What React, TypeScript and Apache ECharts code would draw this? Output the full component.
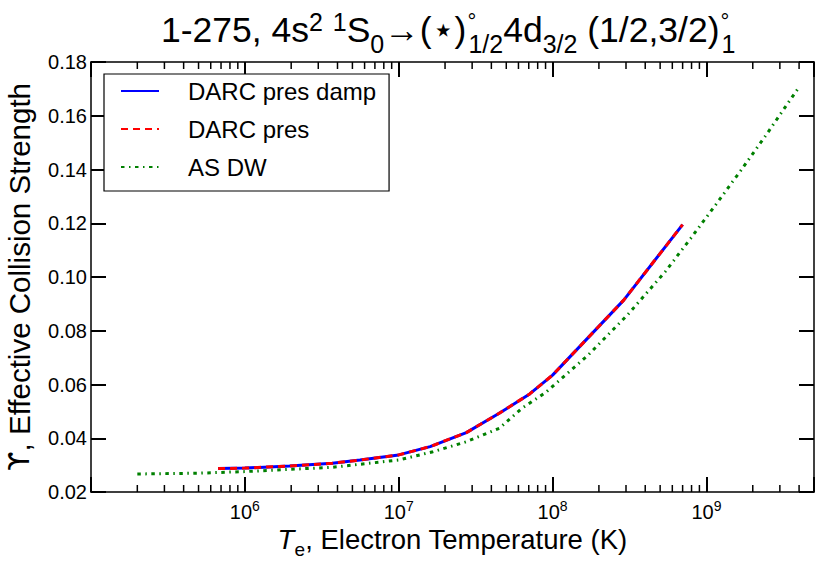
import React, { useEffect, useRef } from 'react';
import * as echarts from 'echarts';

// Electron temperature (K) and effective collision strength readings
const darcT = [6.7e5, 1.0e6, 1.95e6, 3.7e6, 5.6e6, 1.0e7, 1.6e7, 2.75e7, 4.5e7, 7.1e7, 1.0e8, 2.9e8, 7.0e8];
const darcDampY = [0.0287, 0.0289, 0.0297, 0.0307, 0.0319, 0.0338, 0.0369, 0.0421, 0.0493, 0.0565, 0.0635, 0.0914, 0.1195];
const darcPresY = [0.0287, 0.0289, 0.0297, 0.0307, 0.0319, 0.0338, 0.0369, 0.0421, 0.0493, 0.0565, 0.0635, 0.0914, 0.1195];

const asT = [2.0e5, 5.0e5, 1.0e6, 3.7e6, 1.0e7, 1.67e7, 2.75e7, 4.5e7, 6.3e7, 9.0e7, 1.7e8, 3.07e8, 5.4e8, 7.9e8, 1.16e9, 1.68e9, 2.44e9, 3.5e9, 3.95e9];
const asY = [0.0267, 0.0270, 0.0276, 0.0292, 0.0319, 0.0350, 0.0387, 0.0437, 0.0511, 0.0570, 0.0709, 0.0859, 0.1020, 0.1144, 0.1272, 0.1398, 0.1528, 0.1659, 0.1702];

const seriesNames = ['DARC pres damp', 'DARC pres', 'AS DW'];
const labelledExponents = [6, 7, 8, 9];
const decades = [1e5, 1e6, 1e7, 1e8, 1e9];
const minorMultipliers = [2, 3, 4, 5, 6, 7, 8, 9];

const X_MIN = 1e5;
const X_MAX = 5e9;
const Y_MIN = 0.02;
const Y_MAX = 0.18;

const FONT = '"Liberation Sans", Arial, Helvetica, sans-serif';

const minorTicks: number[] = [];
decades.forEach((d) => minorMultipliers.forEach((m) => {
  const v = d * m;
  if (v < X_MAX) minorTicks.push(v);
}));

const zip = (xs: number[], ys: number[]) => xs.map((x, i) => [x, ys[i]]);

export default function App() {
  const ref = useRef<HTMLDivElement>(null);
  useEffect(() => {
    if (!ref.current) return;
    const chart = echarts.init(ref.current, undefined, { renderer: 'svg' });
    const axisLine = { show: true, lineStyle: { color: '#000', width: 1.5 } };
    const majorTick = { show: true, inside: true, length: 15, lineStyle: { color: '#000', width: 2 } };
    const option: any = {
      animation: false,
      backgroundColor: '#fff',
      textStyle: { fontFamily: FONT },
      title: {
        left: 156,
        top: 4,
        text: '{b|1-275, 4s}{sp|2}{b| }{sp|1}{b|S}{sb|0}{b|→(⋆)}{dg|°}{sb|1/2}{b|4d}{sb|3/2}{b| (1/2,3/2)}{dg|°}{sb|1}',
        textStyle: {
          fontFamily: FONT,
          fontWeight: 'normal',
          color: '#000',
          rich: {
            b: { fontFamily: FONT, fontSize: 35.5, color: '#000', verticalAlign: 'bottom', padding: [0, 0, 8, 0] },
            sp: { fontFamily: FONT, fontSize: 25, color: '#000', verticalAlign: 'bottom', padding: [0, 0, 22, 0] },
            sb: { fontFamily: FONT, fontSize: 25, color: '#000', verticalAlign: 'bottom', padding: [0, 0, 0, 0] },
            dg: { fontFamily: FONT, fontSize: 22, color: '#000', verticalAlign: 'bottom', width: 1, padding: [0, 0, 24, 1] },
          },
        },
      },
      grid: { left: 91, top: 62, right: 16, bottom: 75, containLabel: false, outerBoundsMode: 'none' },
      legend: {
        data: seriesNames,
        orient: 'vertical',
        left: 104,
        top: 74,
        itemWidth: 38,
        itemHeight: 20,
        itemGap: 14,
        padding: [5, 13, 12, 16],
        borderColor: '#000',
        borderWidth: 1.2,
        backgroundColor: '#fff',
        itemStyle: { opacity: 0 },
        lineStyle: { opacity: 1 },
        textStyle: { fontFamily: FONT, fontSize: 24, color: '#000', padding: [0, 0, 0, 24] },
      },
      xAxis: [
        {
          type: 'log',
          logBase: 10,
          min: X_MIN,
          max: X_MAX,
          position: 'bottom',
          axisLine,
          axisTick: majorTick,
          splitLine: { show: false },
          name: '{it|T}{sb|e}{n|, Electron Temperature (K)}',
          nameLocation: 'middle',
          nameGap: 33,
          nameMoveOverlap: false,
          nameTextStyle: {
            rich: {
              it: { fontFamily: FONT, fontSize: 27.5, fontStyle: 'italic', color: '#000', verticalAlign: 'bottom', padding: [0, 0, 6, 0] },
              sb: { fontFamily: FONT, fontSize: 19, color: '#000', verticalAlign: 'bottom', padding: [0, 0, 0, 0] },
              n: { fontFamily: FONT, fontSize: 27.5, color: '#000', verticalAlign: 'bottom', padding: [0, 0, 6, 0] },
            },
          },
          axisLabel: {
            margin: 7,
            formatter: (v: number) => {
              const e = Math.round(Math.log10(v));
              if (Math.abs(Math.log10(v) - e) > 1e-6 || labelledExponents.indexOf(e) < 0) return '';
              return `{b|10}{sp|${e}}`;
            },
            rich: {
              b: { fontFamily: FONT, fontSize: 20, color: '#000', verticalAlign: 'bottom', padding: [0, 0, 0, 0] },
              sp: { fontFamily: FONT, fontSize: 14, color: '#000', verticalAlign: 'bottom', padding: [0, 0, 9, 0] },
            },
          },
        },
        {
          type: 'log',
          logBase: 10,
          min: X_MIN,
          max: X_MAX,
          position: 'top',
          axisLine,
          axisTick: majorTick,
          axisLabel: { show: false },
          splitLine: { show: false },
        },
      ],
      yAxis: [
        {
          type: 'value',
          min: Y_MIN,
          max: Y_MAX,
          interval: 0.02,
          position: 'left',
          axisLine,
          axisTick: majorTick,
          splitLine: { show: false },
          axisLabel: {
            margin: 4,
            fontFamily: FONT,
            fontSize: 20,
            color: '#000',
            formatter: (v: number) => v.toFixed(2),
          },
          name: '{u|ϒ}{n|, Effective Collision Strength}',
          nameLocation: 'middle',
          nameGap: 57,
          nameMoveOverlap: false,
          nameTextStyle: {
            fontFamily: FONT,
            fontSize: 29.5,
            color: '#000',
            rich: {
              u: { fontFamily: '"DejaVu Sans", sans-serif', fontSize: 28, color: '#000' },
              n: { fontFamily: FONT, fontSize: 29.5, color: '#000' },
            },
          },
        },
        {
          type: 'value',
          min: Y_MIN,
          max: Y_MAX,
          interval: 0.02,
          position: 'right',
          axisLine,
          axisTick: majorTick,
          axisLabel: { show: false },
          splitLine: { show: false },
        },
      ],
      series: [
        {
          name: seriesNames[0],
          type: 'line',
          data: zip(darcT, darcDampY),
          showSymbol: false,
          symbol: 'none',
          lineStyle: { color: '#0000ff', width: 3, type: 'solid' },
          itemStyle: { color: '#0000ff' },
          z: 3,
        },
        {
          name: seriesNames[1],
          type: 'line',
          data: zip(darcT, darcPresY),
          showSymbol: false,
          symbol: 'none',
          lineStyle: { color: '#ff0000', width: 3, type: [7, 5] },
          itemStyle: { color: '#ff0000' },
          z: 4,
        },
        {
          name: seriesNames[2],
          type: 'line',
          data: zip(asT, asY),
          showSymbol: false,
          symbol: 'none',
          lineStyle: { color: '#008000', width: 3, type: [3.5, 4.5, 1.5, 4.5] },
          itemStyle: { color: '#008000' },
          z: 2,
        },
        {
          type: 'custom',
          silent: true,
          data: minorTicks.map((t) => [t, Y_MIN]),
          encode: { x: 0, y: 1 },
          renderItem: (_params: any, api: any) => {
            const t = api.value(0);
            const b = api.coord([t, Y_MIN]);
            const tp = api.coord([t, Y_MAX]);
            const style = { stroke: '#000', lineWidth: 1.5 };
            return {
              type: 'group',
              children: [
                { type: 'line', shape: { x1: b[0], y1: b[1], x2: b[0], y2: b[1] - 7 }, style },
                { type: 'line', shape: { x1: tp[0], y1: tp[1], x2: tp[0], y2: tp[1] + 7 }, style },
              ],
            };
          },
          z: 5,
        },
      ],
    };
    chart.setOption(option);
    return () => chart.dispose();
  }, []);
  return <div ref={ref} style={{ position: 'absolute', left: 0, top: 0, width: 830, height: 567 }} />;
}
